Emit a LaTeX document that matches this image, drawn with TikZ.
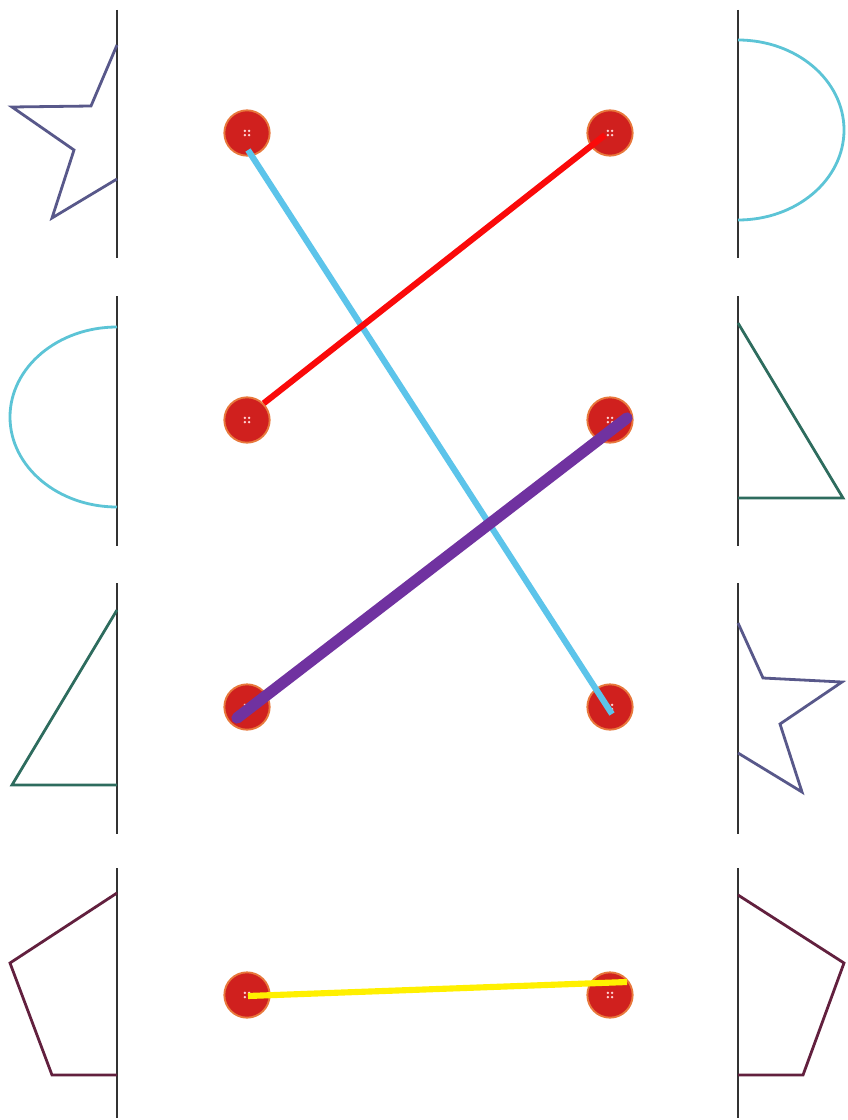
\documentclass[tikz,border=0pt]{standalone}
\usetikzlibrary{positioning}
\definecolor{stargray}{RGB}{88,88,138}
\definecolor{halfcyan}{RGB}{92,196,214}
\definecolor{trigreen}{RGB}{46,108,94}
\definecolor{pentwine}{RGB}{98,32,62}
\definecolor{btnred}{RGB}{208,32,30}
\definecolor{btnrim}{RGB}{232,120,60}
\definecolor{lineblue}{RGB}{92,196,234}
\definecolor{linered}{RGB}{250,10,10}
\definecolor{linepurple}{RGB}{112,50,160}
\definecolor{lineyellow}{RGB}{255,240,0}

\begin{document}
\begin{tikzpicture}[x=0.75pt, y=-0.75pt,
  axisline/.style={draw=black!80, line width=2.2pt},
  halfshape/.style={line width=2.1pt, line join=miter},
  button/.style={circle, fill=btnred, draw=btnrim, line width=1.4pt, minimum size=34pt, inner sep=0pt,
    path picture={\foreach \dx/\dy in {-1.6/-1.6, 1.6/-1.6, -1.6/1.6, 1.6/1.6}
      \fill[pink!70] ([shift={(\dx pt,\dy pt)}]path picture bounding box.center) circle (1pt);}},
  link/.style={line width=4.6pt}
]
  \useasboundingbox[fill=white] (0,0) rectangle (848,1120);

  % axes of symmetry
  \foreach \ya/\yb in {10/258, 296/546, 583/834, 868/1118} {
    \draw[axisline] (117,\ya) -- (117,\yb);
    \draw[axisline] (738,\ya) -- (738,\yb);
  }

  % left halves
  \draw[halfshape, stargray] (117,45) -- (91,106) -- (12,107) -- (74,150) -- (52,218) -- (117,179);
  \draw[halfshape, halfcyan] (117,327) arc[start angle=-90, end angle=-270, x radius=107, y radius=90];
  \draw[halfshape, trigreen] (117,610) -- (12,785) -- (117,785);
  \draw[halfshape, pentwine] (117,893) -- (10,963) -- (52,1075) -- (117,1075);

  % right halves
  \draw[halfshape, halfcyan] (738,40) arc[start angle=-90, end angle=90, x radius=106, y radius=90];
  \draw[halfshape, trigreen] (738,323) -- (843,498) -- (738,498);
  \draw[halfshape, stargray] (738,623) -- (763,678) -- (842,682) -- (780,724) -- (802,792) -- (738,753);
  \draw[halfshape, pentwine] (738,895) -- (844,963) -- (803,1075) -- (738,1075);

  % buttons
  \node[button] (lb1) at (247,133) {};
  \node[button] (lb2) at (247,420) {};
  \node[button] (lb3) at (247,707) {};
  \node[button] (lb4) at (247,995) {};
  \node[button] (rb1) at (610,133) {};
  \node[button] (rb2) at (610,420) {};
  \node[button] (rb3) at (610,707) {};
  \node[button] (rb4) at (610,995) {};

  % matching lines
  \draw[link, lineblue] ([shift={(1,17)}]lb1.center) -- ([shift={(2,7)}]rb3.center);
  \draw[link, linered] ([shift={(-5,2)}]rb1.center) -- (lb2.north east);
  \draw[link, linepurple, line width=8.5pt, line cap=round] ([shift={(17,-2)}]rb2.center) -- ([shift={(-10,11)}]lb3.center);
  \draw[link, lineyellow] ([shift={(1,1)}]lb4.center) -- ([shift={(17,-13)}]rb4.center);
\end{tikzpicture}
\end{document}
